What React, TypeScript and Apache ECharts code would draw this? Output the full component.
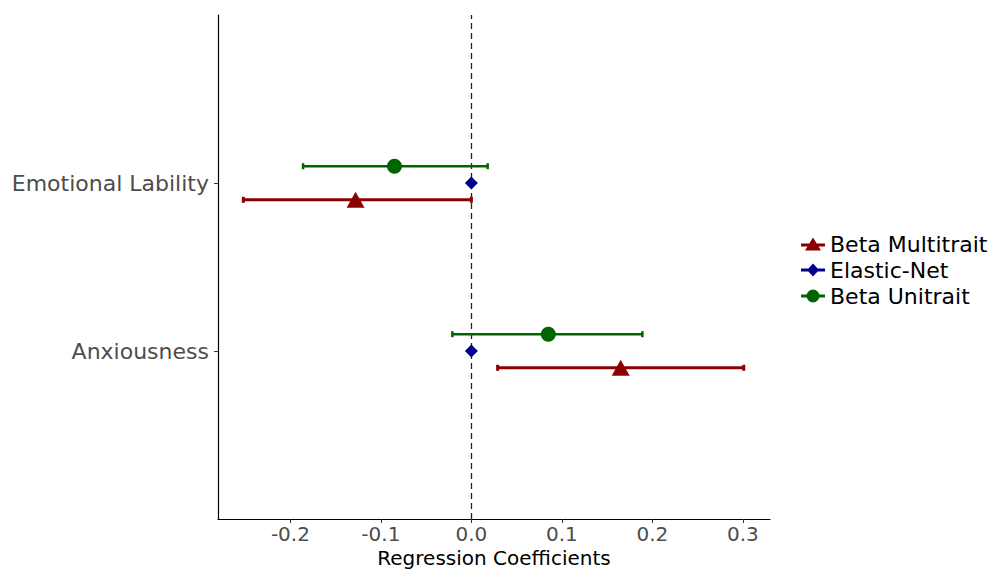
import React, { useEffect, useRef } from "react";
import * as echarts from "echarts";

const categories = ["Anxiousness", "Emotional Lability"];
const seriesNames = ["Beta Multitrait", "Elastic-Net", "Beta Unitrait"];
const offsets = [-0.1, 0, 0.1];
const colors = ["#8b0000", "#00008b", "#006400"];

// per category (Anxiousness, Emotional Lability)
const multitraitEst = [0.165, -0.128];
const multitraitLo = [0.029, -0.252];
const multitraitHi = [0.301, 0.0];
const elasticNetEst = [0.0, 0.0];
const unitraitEst = [0.085, -0.085];
const unitraitLo = [-0.021, -0.186];
const unitraitHi = [0.189, 0.018];

const xTicks = [-0.2, -0.1, 0.0, 0.1, 0.2, 0.3];

const FONT = "DejaVu Sans";

export default function App() {
  const ref = useRef<HTMLDivElement>(null);
  useEffect(() => {
    const prevMargin = document.body.style.margin;
    document.body.style.margin = "0";
    const chart = echarts.init(ref.current!, null, { renderer: "svg" });
    const pts = (est: number[], off: number) =>
      est.map((v, i) => [v, i + 1 + off]);
    const bars = (lo: number[], hi: number[], off: number) =>
      lo.map((v, i) => [v, hi[i], i + 1 + off]);

    const errRender = (color: string, width: number) => (params: any, api: any) => {
      const p1 = api.coord([api.value(0), api.value(2)]);
      const p2 = api.coord([api.value(1), api.value(2)]);
      const h = 3;
      const style = { stroke: color, lineWidth: width, fill: "none" };
      return {
        type: "group",
        children: [
          { type: "line", shape: { x1: p1[0], y1: p1[1], x2: p2[0], y2: p2[1] }, style },
          { type: "line", shape: { x1: p1[0], y1: p1[1] - h, x2: p1[0], y2: p1[1] + h }, style },
          { type: "line", shape: { x1: p2[0], y1: p2[1] - h, x2: p2[0], y2: p2[1] + h }, style },
        ],
      };
    };

    const triIcon = "path://M12,0L20,13L4,13Z M0,6L24,6L24,9L0,9Z";
    const diaIcon = "path://M12,1L18,7.5L12,14L6,7.5Z M0,6L24,6L24,9L0,9Z";
    const cirIcon = "path://M12,1A6.5,6.5,0,1,1,12,14A6.5,6.5,0,1,1,12,1Z M0,6L24,6L24,9L0,9Z";

    chart.setOption({
      animation: false,
      textStyle: { fontFamily: FONT },
      grid: { left: 218, top: 15, width: 552, height: 504, outerBoundsMode: "none" },
      legend: {
        orient: "vertical",
        left: 796,
        top: 228,
        itemWidth: 24,
        itemHeight: 14,
        itemGap: 4,
        textStyle: { fontSize: 22, color: "#000", fontFamily: FONT },
        data: [
          { name: seriesNames[0], icon: triIcon },
          { name: seriesNames[1], icon: diaIcon },
          { name: seriesNames[2], icon: cirIcon },
        ],
      },
      xAxis: {
        type: "value",
        min: -0.28,
        max: 0.33,
        splitLine: { show: false },
        axisLine: { show: true, onZero: false, lineStyle: { color: "#000", width: 1.2 } },
        axisTick: { show: true, customValues: xTicks, length: 4, lineStyle: { color: "#333" } },
        axisLabel: {
          customValues: xTicks,
          formatter: (v: number) => v.toFixed(1),
          color: "#4d4d4d",
          fontSize: 20,
          margin: 5,
          fontFamily: FONT,
        },
        name: "Regression Coefficients",
        nameLocation: "middle",
        nameGap: 29,
        nameMoveOverlap: false,
        nameTextStyle: { fontSize: 20, color: "#000", fontFamily: FONT },
      },
      yAxis: {
        type: "value",
        min: 0,
        max: 3,
        splitLine: { show: false },
        axisLine: { show: true, onZero: false, lineStyle: { color: "#000", width: 1.2 } },
        axisTick: { show: true, customValues: [1, 2], length: 4, lineStyle: { color: "#333" } },
        axisLabel: {
          customValues: [1, 2],
          formatter: (v: number) => categories[Math.round(v) - 1] ?? "",
          color: "#4d4d4d",
          fontSize: 22,
          margin: 9,
          fontFamily: FONT,
        },
      },
      series: [
        {
          type: "custom",
          name: "err-multi",
          renderItem: errRender(colors[0], 3),
          encode: { x: [0, 1], y: 2 },
          data: bars(multitraitLo, multitraitHi, offsets[0]),
          z: 2,
        },
        {
          type: "custom",
          name: "err-uni",
          renderItem: errRender(colors[2], 2.5),
          encode: { x: [0, 1], y: 2 },
          data: bars(unitraitLo, unitraitHi, offsets[2]),
          z: 2,
        },
        {
          type: "scatter",
          name: seriesNames[0],
          symbol: "triangle",
          symbolSize: [18, 16],
          itemStyle: { color: colors[0], opacity: 1 },
          data: pts(multitraitEst, offsets[0]),
          z: 3,
        },
        {
          type: "scatter",
          name: seriesNames[1],
          symbol: "diamond",
          symbolSize: 13,
          itemStyle: { color: colors[1], opacity: 1 },
          data: pts(elasticNetEst, offsets[1]),
          z: 4,
          markLine: {
            silent: true,
            symbol: "none",
            label: { show: false },
            lineStyle: { color: "#222", type: [6, 4], width: 1.3 },
            data: [{ xAxis: 0 }],
            z: 1,
          },
        },
        {
          type: "scatter",
          name: seriesNames[2],
          symbol: "circle",
          symbolSize: 15,
          itemStyle: { color: colors[2], opacity: 1 },
          data: pts(unitraitEst, offsets[2]),
          z: 3,
        },
      ],
    });
    return () => {
      chart.dispose();
      document.body.style.margin = prevMargin;
    };
  }, []);
  return <div ref={ref} style={{ width: 991, height: 571 }} />;
}
